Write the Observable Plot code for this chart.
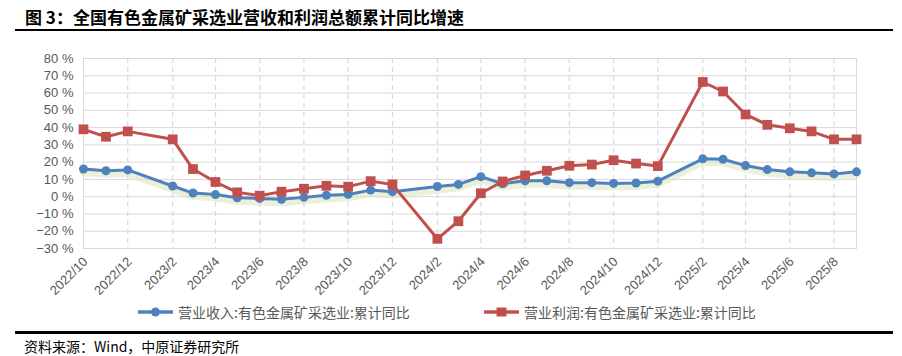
<!DOCTYPE html>
<html><head><meta charset="utf-8">
<script src="https://cdn.jsdelivr.net/npm/d3@7"></script>
<script src="https://cdn.jsdelivr.net/npm/@observablehq/plot@0.6"></script>
<style>
body{margin:0;background:#fff;}
#wrap{position:relative;width:902px;height:356px;overflow:hidden;font-family:"Noto Sans CJK SC",sans-serif;}
#title{position:absolute;left:25px;top:5px;font-size:17px;font-weight:bold;color:#000;line-height:24px;white-space:nowrap;}
.rule{position:absolute;left:15px;width:878px;background:#000;}
#chart{position:absolute;left:0;top:40px;}
.leg{position:absolute;top:303px;height:18px;display:flex;align-items:center;font-size:14px;color:#595959;white-space:nowrap;}
.leg svg{margin-right:5px;}
#source{position:absolute;left:24px;top:336px;font-size:14px;color:#000;line-height:20px;white-space:nowrap;}
</style></head>
<body>
<div id="wrap">
  <div id="title"></div>
  <div class="rule" style="top:29px;height:2px;"></div>
  <div id="chart"></div>
  <div class="leg" id="leg1" style="left:138px;"></div>
  <div class="leg" id="leg2" style="left:484px;"></div>
  <div class="rule" style="top:331px;height:2.5px;"></div>
  <div id="source"></div>
</div>
<script>
const titleText = "图 3：全国有色金属矿采选业营收和利润总额累计同比增速";
const sourceText = "资料来源：Wind，中原证券研究所";
const seriesNames = ["营业收入:有色金属矿采选业:累计同比", "营业利润:有色金属矿采选业:累计同比"];
const seriesColors = ["#4f81bd", "#c0504d"];

const months = ["2022/10","2022/11","2022/12",
  "2023/2","2023/3","2023/4","2023/5","2023/6","2023/7","2023/8","2023/9","2023/10","2023/11","2023/12",
  "2024/2","2024/3","2024/4","2024/5","2024/6","2024/7","2024/8","2024/9","2024/10","2024/11","2024/12",
  "2025/2","2025/3","2025/4","2025/5","2025/6","2025/7","2025/8","2025/9"];
const revenue = [16.0,15.0,15.5,
  6.2,2.1,1.2,-0.6,-1.0,-1.5,-0.4,0.8,1.3,3.8,2.9,
  5.9,7.1,11.6,7.5,9.2,9.2,8.1,8.1,7.7,7.9,9.0,
  21.9,21.7,18.0,15.7,14.4,13.8,13.2,14.4];
const profit = [39.0,34.7,37.8,
  33.2,16.0,8.5,2.5,0.6,2.9,4.6,6.3,5.8,9.0,7.1,
  -24.4,-14.2,2.0,8.8,12.3,15.0,17.9,18.6,21.1,19.2,17.7,
  66.4,60.9,47.6,41.6,39.6,37.8,33.2,33.2];
const xTickLabels = ["2022/10","2022/12","2023/2","2023/4","2023/6","2023/8","2023/10","2023/12",
  "2024/2","2024/4","2024/6","2024/8","2024/10","2024/12","2025/2","2025/4","2025/6","2025/8"];
const yTicks = [-30,-20,-10,0,10,20,30,40,50,60,70,80];

const parse = s => { const [y, m] = s.split("/"); return new Date(Date.UTC(+y, +m - 1, 1)); };
const fmtDate = d => `${d.getUTCFullYear()}/${d.getUTCMonth() + 1}`;

const revData = months.map((m, i) => ({date: parse(m), v: revenue[i]}));
const profData = months.map((m, i) => ({date: parse(m), v: profit[i]}));
const xTickDates = xTickLabels.map(parse);

document.getElementById("title").textContent = titleText;
document.getElementById("source").textContent = sourceText;

const chart = Plot.plot({
  width: 902, height: 265,
  marginLeft: 83, marginRight: 46, marginTop: 18, marginBottom: 57,
  x: {type: "utc", domain: [parse(months[0]), parse(months[months.length - 1])]},
  y: {domain: [-30, 80]},
  style: {fontFamily: "'Liberation Sans', Arial, sans-serif", fontSize: "13px", color: "#595959", background: "transparent", overflow: "visible"},
  marks: [
    Plot.gridY(yTicks, {stroke: "#d9d9d9", strokeOpacity: 1}),
    Plot.ruleX(xTickDates.slice(1), {stroke: "#d9d9d9", strokeDasharray: "5,4", strokeWidth: 1.2}),
    Plot.frame({stroke: "#d9d9d9"}),
    Plot.axisY(yTicks, {tickSize: 0, tickPadding: 10, label: null, fill: "#595959",
      tickFormat: d => `${d < 0 ? "−" : ""}${Math.abs(d)} %`}),
    Plot.axisX(xTickDates, {tickSize: 0, tickPadding: 11, tickRotate: -45, label: null, fill: "#595959",
      fontSize: 13, dx: 2, tickFormat: fmtDate}),
    Plot.line(revData, {x: "date", y: "v", dy: 4, stroke: "#d8e4bc", strokeWidth: 6, strokeOpacity: 0.55}),
    Plot.line(revData, {x: "date", y: "v", stroke: seriesColors[0], strokeWidth: 3}),
    Plot.dot(revData, {x: "date", y: "v", r: 4.5, fill: seriesColors[0]}),
    Plot.line(profData, {x: "date", y: "v", stroke: seriesColors[1], strokeWidth: 3}),
    Plot.dot(profData, {x: "date", y: "v", symbol: "square", r: 5.5, fill: seriesColors[1]})
  ]
});
document.getElementById("chart").appendChild(chart);

function swatch(color, square) {
  const ns = "http://www.w3.org/2000/svg";
  const s = document.createElementNS(ns, "svg");
  s.setAttribute("width", 35); s.setAttribute("height", 14);
  const l = document.createElementNS(ns, "line");
  l.setAttribute("x1", 0); l.setAttribute("x2", 35); l.setAttribute("y1", 7); l.setAttribute("y2", 7);
  l.setAttribute("stroke", color); l.setAttribute("stroke-width", 3.5);
  s.appendChild(l);
  let m;
  if (square) {
    m = document.createElementNS(ns, "rect");
    m.setAttribute("x", 12.5); m.setAttribute("y", 2.5); m.setAttribute("width", 10); m.setAttribute("height", 9);
  } else {
    m = document.createElementNS(ns, "circle");
    m.setAttribute("cx", 17.5); m.setAttribute("cy", 7); m.setAttribute("r", 4.5);
  }
  m.setAttribute("fill", color);
  s.appendChild(m);
  return s;
}
[["leg1", 0, false], ["leg2", 1, true]].forEach(([id, i, sq]) => {
  const el = document.getElementById(id);
  el.appendChild(swatch(seriesColors[i], sq));
  const t = document.createElement("span");
  t.textContent = seriesNames[i];
  el.appendChild(t);
});
</script>
</body></html>
